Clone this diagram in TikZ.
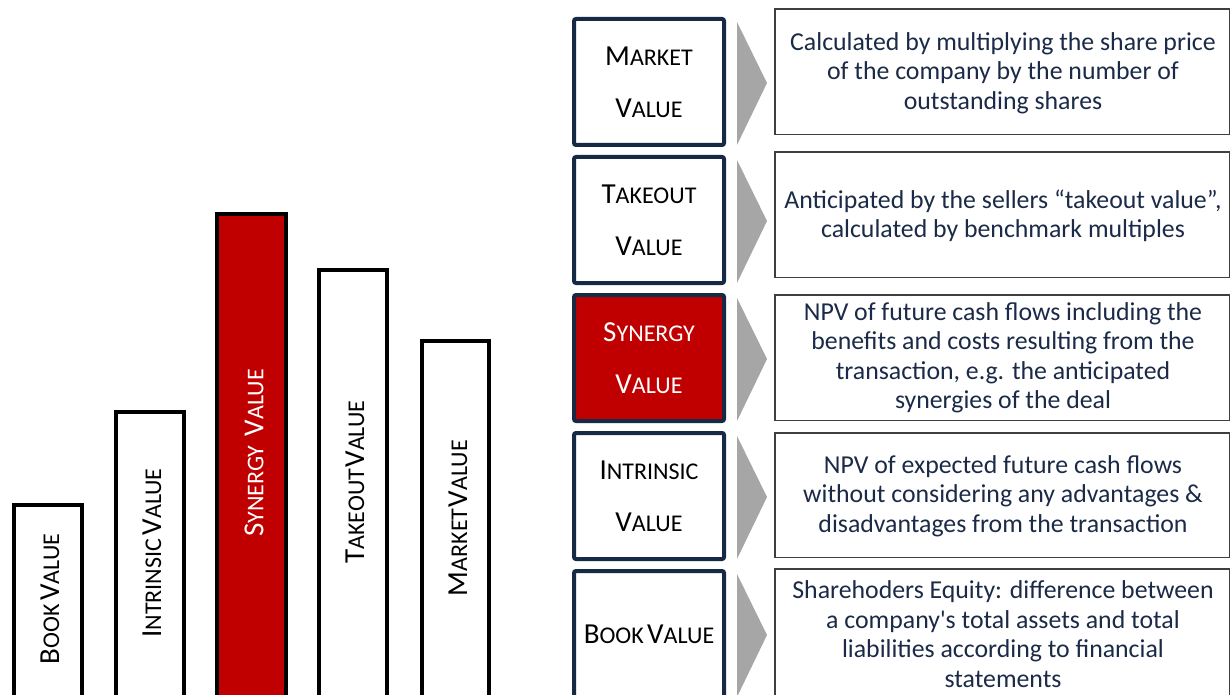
\documentclass[tikz,border=0pt]{standalone}
\usepackage{fontspec}
\setmainfont{Carlito}
\definecolor{barred}{HTML}{C00000}
\definecolor{navy}{HTML}{172A45}
\definecolor{chevgray}{HTML}{A6A6A6}
\definecolor{descgray}{HTML}{3F3F3F}
\definecolor{desctext}{HTML}{1B2A47}
\newcommand\scap[2]{{\fontsize{29}{52}\selectfont #1}{\fontsize{24}{52}\selectfont #2}}
\tikzset{
  bar/.style={draw=black, line width=4pt, fill=white},
  barlabel/.style={rotate=90, inner sep=0pt, font=\fontsize{24}{30}\selectfont},
  lbox/.style={draw=navy, line width=4pt, rounded corners=2pt, fill=white,
    minimum width=150pt, minimum height=126pt, align=center, inner sep=0pt,
    font=\fontsize{24}{52}\selectfont},
  rbox/.style={draw=descgray, line width=1.5pt, fill=white},
  desc/.style={align=center, text=desctext, inner sep=0pt,
    font=\fontsize{25.8}{29.5}\selectfont},
  chev/.style={fill=chevgray}
}
\begin{document}
\begin{tikzpicture}[x=1pt,y=-1pt]
\useasboundingbox (0,0) rectangle (1231,695);
\clip (0,0) rectangle (1231,695);
% bars
\draw[bar] (14,710) rectangle (82,505);
\draw[bar] (116,710) rectangle (184,412);
\draw[bar, fill=barred] (217,710) rectangle (286,214);
\draw[bar] (319,710) rectangle (387,270);
\draw[bar] (422,710) rectangle (489,341);
\node[barlabel] (bl1) at (50,599) {\scap{B}{OOK}\hspace{-2pt} \scap{V}{ALUE}};
\node[barlabel] (bl2) at (152,553) {\scap{I}{NTRINSIC}\hspace{-2pt} \scap{V}{ALUE}};
\node[barlabel, text=white] (bl3) at (254,453) {\scap{S}{YNERGY}\hspace{4pt} \scap{V}{ALUE}};
\node[barlabel] (bl4) at (355,482) {\scap{T}{AKEOUT}\hspace{-4pt} \scap{V}{ALUE}};
\node[barlabel] (bl5) at (458,518) {\scap{M}{ARKET}\hspace{-4pt} \scap{V}{ALUE}};
% left boxes
\node[lbox] (m) at (649,82) {\scap{M}{ARKET}\\\scap{V}{ALUE}};
\node[lbox] (t) at (649,220) {\scap{T}{AKEOUT}\\\scap{V}{ALUE}};
\node[lbox, fill=barred, text=white] (s) at (649,358) {\scap{S}{YNERGY}\\\scap{V}{ALUE}};
\node[lbox] (i) at (649,496) {\scap{I}{NTRINSIC}\\\scap{V}{ALUE}};
\node[lbox] (b) at (649,634) {\scap{B}{OOK}\hspace{-2pt} \scap{V}{ALUE}};
% chevrons
\foreach \t in {17,155,293,431,569}{
  \fill[chev] (737,\t+5) -- (767,\t+66) -- (737,\t+128) -- cycle;
}
% right boxes
\draw[rbox] (775,9) rectangle (1229.5,134.5);
\draw[rbox] (775,152) rectangle (1229.5,277.5);
\draw[rbox] (775,295) rectangle (1229.5,420.5);
\draw[rbox] (775,433) rectangle (1229.5,557.5);
\draw[rbox] (775,569) rectangle (1229.5,710);
\node[desc] (dm) at (1003,73) {Calculated by multiplying the share price\\of the company by the number of\\outstanding shares};
\node[desc] (dt) at (1003,216) {Anticipated by the sellers “takeout value”,\\calculated by benchmark multiples};
\node[desc] (ds) at (1003,358) {NPV of future cash flows including the\\benefits and costs resulting from the\\transaction, e.g. the anticipated\\synergies of the deal};
\node[desc] (di) at (1003,496) {NPV of expected future cash flows\\without considering any advantages \&\\disadvantages from the transaction};
\node[desc] (db) at (1003,634) {Sharehoders Equity: difference between\\a company\textquotesingle s total assets and total\\liabilities according to financial\\statements};
\end{tikzpicture}
\end{document}
